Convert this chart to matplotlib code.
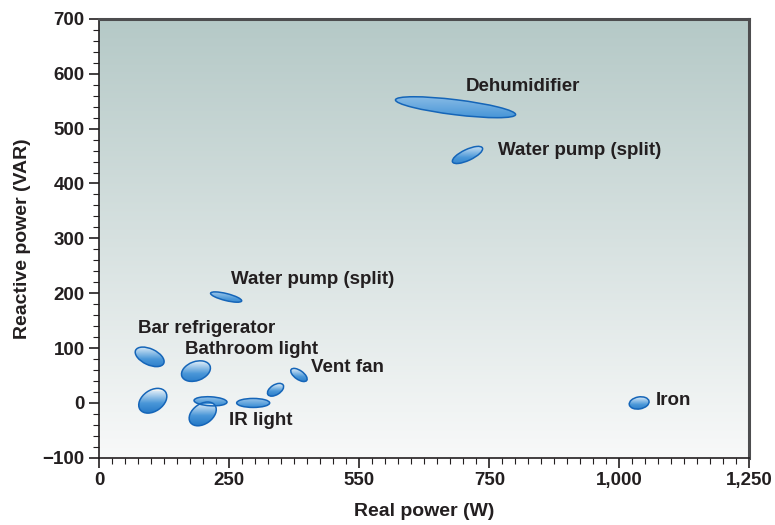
import matplotlib

matplotlib.use("Agg")
import matplotlib.pyplot as plt
import numpy as np
from matplotlib.colors import LinearSegmentedColormap
from matplotlib.patches import Ellipse
from matplotlib.ticker import FixedLocator, MultipleLocator
from matplotlib.transforms import ScaledTranslation

# appliance clusters: centre (W, VAR)
cluster_x = [685, 708, 244, 97, 186, 384, 339, 103, 214, 199, 296, 1038]
cluster_y = [539, 452, 193, 84, 58, 51, 24, 4, 3, -20, 0, 0]
# apparent extent of each cluster on the page (px) and tilt (deg)
cluster_w = [121, 33, 32, 31, 30, 19, 18, 31, 33, 30, 33, 20]
cluster_h = [15, 11, 7, 16, 19, 9, 10, 21, 9, 20, 9, 12]
cluster_a = [-7, 25, -14, -25, 20, -35, 32, 35, -3, 35, 0, 10]

labels = ["Dehumidifier", "Water pump (split)", "Water pump (split)",
          "Bar refrigerator", "Bathroom light", "Vent fan", "IR light", "Iron"]
label_x = [705, 766, 253, 74, 165, 408, 250, 1070]
label_y = [577, 460, 225, 135, 98, 64, -32, 4]

x_ticks = [0, 250, 500, 750, 1000, 1250]
x_tick_labels = ["0", "250", "550", "750", "1,000", "1,250"]
y_ticks = [-100, 0, 100, 200, 300, 400, 500, 600, 700]

FONT = ["Liberation Sans Narrow", "Liberation Sans", "DejaVu Sans"]
INK = "#231f20"

fig = plt.figure(figsize=(7.75, 5.25), dpi=100)
ax = fig.add_axes([0.128, 0.128, 0.839, 0.836])
ax.set_xlim(0, 1250)
ax.set_ylim(-100, 700)

# background gradient, teal-gray at top fading to white
bg = LinearSegmentedColormap.from_list("bg", ["#f8f9f9", "#b5c9c7"])
ax.imshow(np.linspace(0, 1, 256).reshape(-1, 1), cmap=bg, origin="lower",
          extent=(0, 1, 0, 1), transform=ax.transAxes, aspect="auto", zorder=0)

blob = LinearSegmentedColormap.from_list("blob", ["#1f74c4", "#4a97d8", "#d6e8f6"])
grad = np.linspace(0, 1, 128).reshape(-1, 1)
for x, y, w, h, a in zip(cluster_x, cluster_y, cluster_w, cluster_h, cluster_a):
    tr = fig.dpi_scale_trans + ScaledTranslation(x, y, ax.transData)
    w_in, h_in = w / 100, h / 100
    e = Ellipse((0, 0), w_in, h_in, angle=a, transform=tr,
                facecolor="none", edgecolor="#1565b8", linewidth=1.1, zorder=3)
    ax.add_patch(e)
    r = max(w_in, h_in) / 2
    im = ax.imshow(grad, cmap=blob, origin="lower", extent=(-r, r, -r * 0.9, r * 0.6),
                   transform=tr, aspect="auto", zorder=2, interpolation="bilinear")
    im.set_clip_path(e)

ax.set_xlim(0, 1250)
ax.set_ylim(-100, 700)

for t, lx, ly in zip(labels, label_x, label_y):
    ax.text(lx, ly, t, family=FONT, fontweight="bold", fontsize=13.5,
            color=INK, va="center", ha="left", zorder=4)

ax.xaxis.set_major_locator(FixedLocator(x_ticks))
ax.set_xticklabels(x_tick_labels)
ax.xaxis.set_minor_locator(MultipleLocator(25))
ax.yaxis.set_major_locator(FixedLocator(y_ticks))
ax.yaxis.set_minor_locator(MultipleLocator(20))
ax.tick_params(which="major", length=7, width=1.2, color=INK, direction="out")
ax.tick_params(which="minor", length=4, width=0.8, color=INK, direction="out")
for lab in ax.get_xticklabels() + ax.get_yticklabels():
    lab.set_family(FONT)
    lab.set_fontweight("bold")
    lab.set_fontsize(13.5)
    lab.set_color(INK)

ax.set_xlabel("Real power (W)", family=FONT, fontsize=14, fontweight="bold",
              color=INK, labelpad=10)
ax.set_ylabel("Reactive power (VAR)", family=FONT, fontsize=14, fontweight="bold",
              color=INK, labelpad=8)

for side in ["left", "bottom"]:
    ax.spines[side].set_color(INK)
    ax.spines[side].set_linewidth(1.2)
for side in ["top", "right"]:
    ax.spines[side].set_color("#4d4d4f")
    ax.spines[side].set_linewidth(2.2)

fig.savefig("out.png", dpi=100)
